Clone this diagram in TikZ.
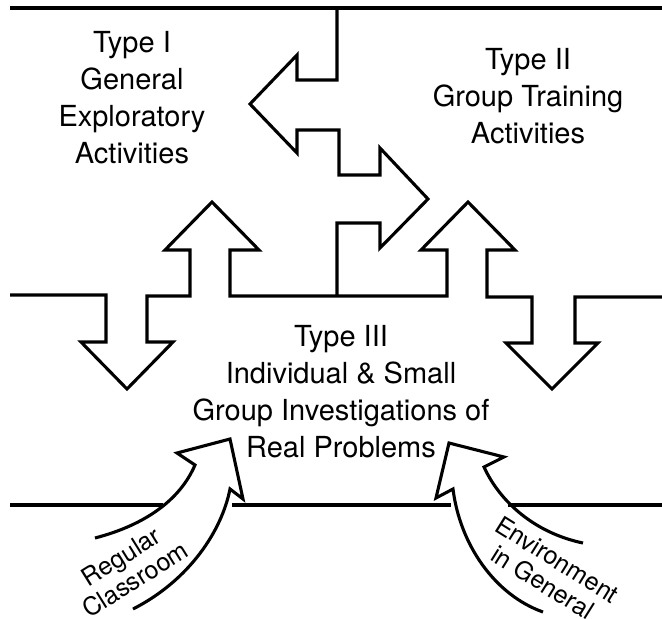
\documentclass[tikz,border=0pt]{standalone}
\usepackage{fontspec}
\setmainfont{TeX Gyre Heros}
\tikzset{
	outline/.style={line width=3.1pt,line join=miter},
	typetext/.style={align=center,inner sep=0pt,font=\fontsize{29}{37}\selectfont},
	sidetext/.style={align=center,inner sep=0pt,font=\fontsize{25}{27}\selectfont}
}
\begin{document}
\begin{tikzpicture}[x=1pt,y=-1pt]
	\useasboundingbox (0,0) rectangle (662,619);
	% top border and the stepped arrows between Type I and Type II
	\draw[outline] (10,8) -- (662,8);
	\draw[outline] (337,8) -- (337,80) -- (297,80) -- (297,55) -- (250,104) -- (297,153) -- (297,130)
		-- (339,130) -- (339,175) -- (380,175) -- (380,148) -- (428,199) -- (380,248) -- (380,223)
		-- (337,223) -- (337,296);
	% middle border with the up and down arrows
	\draw[outline] (10,295) -- (106,295) -- (106,342) -- (81,342) -- (127,389) -- (173,342) -- (147,342)
		-- (147,296) -- (190,296) -- (190,250) -- (165,250) -- (212,202) -- (259,250) -- (230,250)
		-- (230,296) -- (447,296) -- (447,250) -- (421,250) -- (468,202) -- (515,250) -- (487,250)
		-- (487,297) -- (532,297) -- (532,343) -- (506,343) -- (552,389) -- (598,343) -- (575,343)
		-- (575,297) -- (662,297);
	% bottom border
	\draw[outline] (10,505) -- (163,505);
	\draw[outline] (232,505) -- (451,505);
	\draw[outline] (508,505) -- (662,505);
	% curved arrows from below
	\draw[outline] (95,538) .. controls (145,525) and (180,500) .. (195,465) -- (177,453) -- (230,439)
		-- (243,499) -- (230,489) .. controls (222,530) and (190,580) .. (133,609);
	\draw[outline] (583,543) .. controls (535,533) and (500,502) .. (484,467) -- (504,457) -- (449,443)
		-- (436,498) -- (453,489) .. controls (460,545) and (495,595) .. (543,612);
	% texts
	\node[typetext] (T1) at (132,98) {Type I\\General\\Exploratory\\Activities};
	\node[typetext] (T2) at (528,96) {Type II\\Group Training\\Activities};
	\node[typetext] (T3) at (341,392) {Type III\\Individual \& Small\\Group Investigations of\\Real Problems};
	\node[sidetext,rotate=32] (RC) at (128,568) {Regular\\Classroom};
	\node[sidetext,rotate=-32] (EG) at (550,571) {Environment\\in General};
\end{tikzpicture}
\end{document}
